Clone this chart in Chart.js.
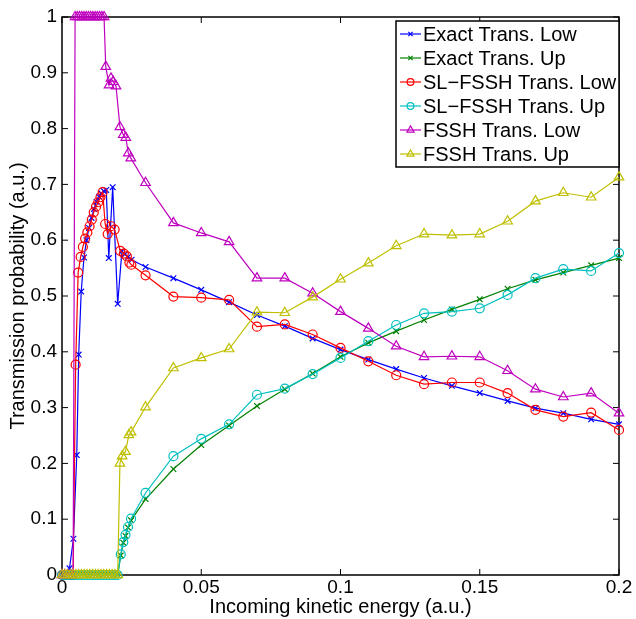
<!DOCTYPE html>
<html>
<head>
<meta charset="utf-8">
<title>Transmission probability</title>
<script src="https://cdn.jsdelivr.net/npm/chart.js@4.4.0/dist/chart.umd.min.js"></script>
<style>
  html, body { margin: 0; padding: 0; background: #fff; }
  canvas { display: block; }
</style>
</head>
<body>
<canvas id="chart" width="636" height="619"></canvas>
<script>
// energy grid above 0.03 a.u., shared by every curve
const coarseE = [0.03, 0.04, 0.05, 0.06, 0.07, 0.08, 0.09, 0.10, 0.11, 0.12, 0.13, 0.14, 0.15, 0.16, 0.17, 0.18, 0.19, 0.20];

// fine grid near threshold for the upper channel (all zero up to 0.02)
const upZeroE = [0, 0.001, 0.002, 0.003, 0.004, 0.005, 0.006, 0.007, 0.008, 0.009, 0.010,
                 0.011, 0.012, 0.013, 0.014, 0.015, 0.016, 0.017, 0.018, 0.019, 0.020];

// exact, lower channel
const exactLowE = [0, 0.001, 0.002, 0.0027, 0.0041, 0.0053, 0.0060, 0.0069, 0.0079, 0.0088,
                   0.0097, 0.0106, 0.0115, 0.0124, 0.0133, 0.0141, 0.0150, 0.0159, 0.0168, 0.0182,
                   0.0200, 0.0215, 0.0226, 0.0237, 0.0250];
const exactLowFine = [0, 0, 0, 0.012, 0.065, 0.215, 0.395, 0.508, 0.569, 0.600,
                      0.622, 0.640, 0.656, 0.669, 0.678, 0.684, 0.688, 0.690, 0.568, 0.695,
                      0.486, 0.580, 0.575, 0.570, 0.565];
const exactLowCoarse = [0.552, 0.532, 0.511, 0.489, 0.466, 0.446, 0.424, 0.404, 0.386,
                        0.369, 0.353, 0.339, 0.326, 0.312, 0.299, 0.290, 0.279, 0.270];

// exact, upper channel
const exactUpE = [0.0211, 0.0220, 0.0228, 0.0237, 0.0248];
const exactUpFine = [0.035, 0.058, 0.070, 0.085, 0.098];
const exactUpCoarse = [0.136, 0.190, 0.233, 0.268, 0.303, 0.333, 0.361, 0.391, 0.416,
                       0.437, 0.457, 0.476, 0.494, 0.513, 0.529, 0.542, 0.555, 0.568];

// SL-FSSH, lower channel
const slLowE = [0, 0.001, 0.002, 0.003, 0.004, 0.0049, 0.0058, 0.0067, 0.0075, 0.0083,
                0.0091, 0.0099, 0.0107, 0.0114, 0.0122, 0.0130, 0.0138, 0.0146, 0.0155, 0.0164,
                0.0176, 0.0189, 0.0209, 0.0222, 0.0233, 0.0242, 0.0249];
const slLowFine = [0, 0, 0, 0, 0, 0.377, 0.542, 0.570, 0.588, 0.603,
                   0.614, 0.625, 0.637, 0.650, 0.660, 0.668, 0.677, 0.686, 0.629, 0.611,
                   0.625, 0.619, 0.581, 0.576, 0.571, 0.560, 0.556];
const slLowCoarse = [0.537, 0.499, 0.497, 0.493, 0.445, 0.449, 0.431, 0.407, 0.383,
                     0.358, 0.342, 0.345, 0.345, 0.326, 0.296, 0.284, 0.291, 0.260];

// SL-FSSH, upper channel
const slUpE = [0.0211, 0.0220, 0.0228, 0.0237, 0.0248];
const slUpFine = [0.037, 0.059, 0.072, 0.086, 0.101];
const slUpCoarse = [0.147, 0.213, 0.244, 0.270, 0.323, 0.334, 0.360, 0.389, 0.419,
                    0.448, 0.469, 0.472, 0.478, 0.502, 0.532, 0.548, 0.545, 0.577];

// FSSH, lower channel
const fsshLowE = [0, 0.001, 0.002, 0.003, 0.004, 0.0047, 0.0055, 0.0063, 0.0071, 0.0079,
                  0.0087, 0.0095, 0.0103, 0.0111, 0.0119, 0.0127, 0.0135, 0.0143, 0.0151, 0.0157,
                  0.0169, 0.0176, 0.0184, 0.0194, 0.0208, 0.0220, 0.0229, 0.0238, 0.0247];
const fsshLowFine = [0, 0, 0, 0, 0, 1, 1, 1, 1, 1,
                     1, 1, 1, 1, 1, 1, 1, 1, 1, 0.911,
                     0.878, 0.890, 0.884, 0.876, 0.803, 0.789, 0.784, 0.756, 0.747];
const fsshLowCoarse = [0.703, 0.631, 0.613, 0.597, 0.532, 0.532, 0.505, 0.472, 0.442,
                       0.410, 0.391, 0.392, 0.391, 0.366, 0.333, 0.319, 0.326, 0.290];

// FSSH, upper channel
const fsshUpE = [0.0208, 0.0216, 0.0228, 0.0240, 0.0248];
const fsshUpFine = [0.200, 0.213, 0.221, 0.251, 0.256];
const fsshUpCoarse = [0.301, 0.371, 0.389, 0.405, 0.471, 0.470, 0.498, 0.530, 0.559,
                      0.590, 0.611, 0.609, 0.611, 0.634, 0.670, 0.685, 0.677, 0.713];

const xTickValues = [0, 0.05, 0.1, 0.15, 0.2];
const xTickLabels = ['0', '0.05', '0.1', '0.15', '0.2'];
const yTickValues = [0, 0.1, 0.2, 0.3, 0.4, 0.5, 0.6, 0.7, 0.8, 0.9, 1];
const yTickLabels = ['0', '0.1', '0.2', '0.3', '0.4', '0.5', '0.6', '0.7', '0.8', '0.9', '1'];

const FONT = 'Liberation Sans, Arial, Helvetica, sans-serif';
const TICK_LEN = 6;

function toPoints(xs, ys) {
    return xs.map((x, i) => ({ x: x, y: ys[i] }));
}

function zeros(n) {
    return Array(n).fill(0);
}

const series = [
    {
        label: 'Exact Trans. Low', color: '#0000ff', marker: 'crossRot', radius: 4,
        points: toPoints(exactLowE.concat(coarseE), exactLowFine.concat(exactLowCoarse))
    },
    {
        label: 'Exact Trans. Up', color: '#008000', marker: 'crossRot', radius: 4,
        points: toPoints(upZeroE.concat(exactUpE, coarseE),
                         zeros(upZeroE.length).concat(exactUpFine, exactUpCoarse))
    },
    {
        label: 'SL\u2212FSSH Trans. Low', color: '#ff0000', marker: 'circle', radius: 4.5,
        points: toPoints(slLowE.concat(coarseE), slLowFine.concat(slLowCoarse))
    },
    {
        label: 'SL\u2212FSSH Trans. Up', color: '#00bfbf', marker: 'circle', radius: 4.5,
        points: toPoints(upZeroE.concat(slUpE, coarseE),
                         zeros(upZeroE.length).concat(slUpFine, slUpCoarse))
    },
    {
        label: 'FSSH Trans. Low', color: '#bf00bf', marker: 'triangle', radius: 5.5,
        points: toPoints(fsshLowE.concat(coarseE), fsshLowFine.concat(fsshLowCoarse))
    },
    {
        label: 'FSSH Trans. Up', color: '#bfbf00', marker: 'triangle', radius: 5.5,
        points: toPoints(upZeroE.concat(fsshUpE, coarseE),
                         zeros(upZeroE.length).concat(fsshUpFine, fsshUpCoarse))
    }
];

// axes box with inward ticks on all four sides, drawn under the curves
// legend box in the upper right corner, drawn last
const boxAndLegend = {
    id: 'boxAndLegend',
    beforeDatasetsDraw(chart) {
        const { ctx, chartArea: a, scales } = chart;
        ctx.save();
        ctx.strokeStyle = '#000';
        ctx.lineWidth = 1.5;
        ctx.strokeRect(a.left, a.top, a.right - a.left, a.bottom - a.top);
        ctx.lineWidth = 1;
        ctx.beginPath();
        xTickValues.forEach(v => {
            const px = scales.x.getPixelForValue(v);
            ctx.moveTo(px, a.bottom); ctx.lineTo(px, a.bottom - TICK_LEN);
            ctx.moveTo(px, a.top); ctx.lineTo(px, a.top + TICK_LEN);
        });
        yTickValues.forEach(v => {
            const py = scales.y.getPixelForValue(v);
            ctx.moveTo(a.left, py); ctx.lineTo(a.left + TICK_LEN, py);
            ctx.moveTo(a.right, py); ctx.lineTo(a.right - TICK_LEN, py);
        });
        ctx.stroke();
        ctx.restore();
    },
    afterDraw(chart) {
        const { ctx, chartArea: a } = chart;
        const w = 223, rowH = 24, h = rowH * series.length + 2;
        const left = a.right - w, top = a.top + 4;
        ctx.save();
        ctx.fillStyle = '#fff';
        ctx.fillRect(left, top, w, h);
        ctx.strokeStyle = '#000';
        ctx.lineWidth = 1.5;
        ctx.strokeRect(left, top, w, h);
        ctx.font = '20px ' + FONT;
        ctx.textBaseline = 'middle';
        series.forEach((s, i) => {
            const y = top + 13 + i * rowH;
            ctx.strokeStyle = s.color;
            ctx.lineWidth = 1.2;
            ctx.beginPath();
            ctx.moveTo(left + 4, y);
            ctx.lineTo(left + 25, y);
            ctx.stroke();
            ctx.fillStyle = 'rgba(0,0,0,0)';
            Chart.helpers.drawPoint(ctx, { pointStyle: s.marker, radius: s.radius * 0.75, borderWidth: 1.2, rotation: 0 }, left + 14.5, y);
            ctx.fillStyle = '#000';
            ctx.fillText(s.label, left + 27, y + 1);
        });
        ctx.restore();
    }
};

new Chart(document.getElementById('chart'), {
    type: 'scatter',
    data: {
        datasets: series.map((s, i) => ({
            label: s.label,
            data: s.points,
            showLine: true,
            borderColor: s.color,
            borderWidth: 1.2,
            pointStyle: s.marker,
            pointRadius: s.radius,
            pointBorderWidth: 1.2,
            pointBorderColor: s.color,
            pointBackgroundColor: 'rgba(0,0,0,0)',
            tension: 0,
            clip: false,
            order: series.length - i
        }))
    },
    options: {
        responsive: false,
        animation: false,
        events: [],
        layout: { padding: { top: 17, right: 17, left: 0, bottom: 0 } },
        plugins: {
            legend: { display: false },
            tooltip: { enabled: false }
        },
        scales: {
            x: {
                type: 'linear',
                min: 0,
                max: 0.2,
                grid: { display: false, drawTicks: false },
                border: { display: false },
                afterBuildTicks: scale => { scale.ticks = xTickValues.map(v => ({ value: v })); },
                afterFit: scale => { scale.height = 44; scale.paddingLeft = 0; scale.paddingRight = 0; },
                ticks: {
                    padding: 1,
                    color: '#000',
                    maxRotation: 0,
                    font: { family: FONT, size: 19 },
                    callback: (v, i) => xTickLabels[i]
                },
                title: {
                    display: true,
                    text: 'Incoming kinetic energy (a.u.)',
                    color: '#000',
                    font: { family: FONT, size: 20 },
                    padding: { top: 0, bottom: 0 }
                }
            },
            y: {
                type: 'linear',
                min: 0,
                max: 1,
                grid: { display: false, drawTicks: false },
                border: { display: false },
                afterBuildTicks: scale => { scale.ticks = yTickValues.map(v => ({ value: v })); },
                afterFit: scale => { scale.width = 62; scale.paddingTop = 0; scale.paddingBottom = 0; },
                ticks: {
                    padding: 5,
                    color: '#000',
                    font: { family: FONT, size: 19 },
                    callback: (v, i) => yTickLabels[i]
                },
                title: {
                    display: true,
                    text: 'Transmission probability (a.u.)',
                    color: '#000',
                    font: { family: FONT, size: 20 },
                    padding: { top: 6, bottom: 0 }
                }
            }
        }
    },
    plugins: [boxAndLegend]
});
</script>
</body>
</html>
